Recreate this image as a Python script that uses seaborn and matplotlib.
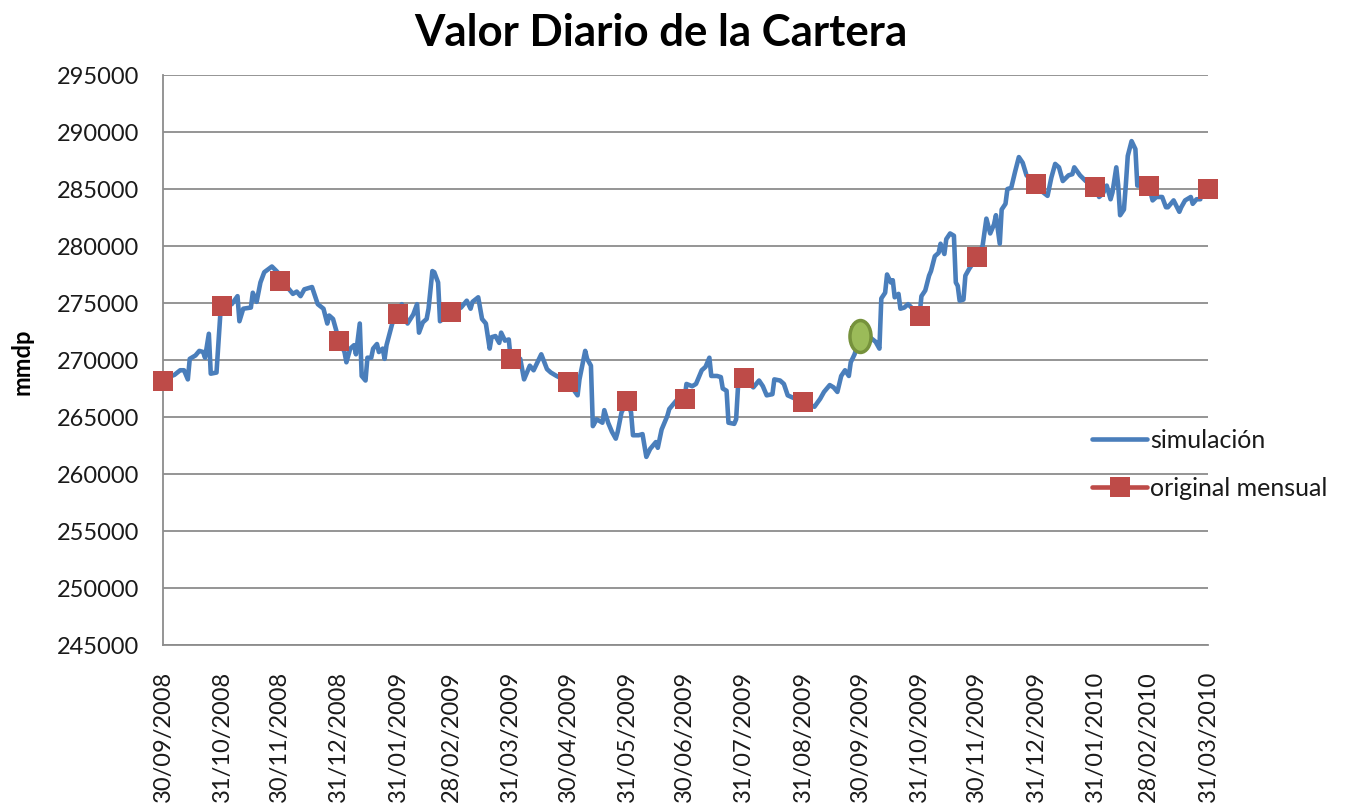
import numpy as np
import pandas as pd
import matplotlib
matplotlib.use("Agg")
import matplotlib.pyplot as plt
from matplotlib.lines import Line2D
from matplotlib.path import Path
import seaborn as sns

# ---------------- data ----------------
start_date = "30/09/2008"

# daily simulation: days since 30/09/2008 and portfolio value
sim_day = [0, 6, 9, 11, 13, 14, 17, 19, 21, 22, 24, 25, 28, 30, 31, 36, 39, 40, 42, 46,
           47, 49, 51, 53, 57, 60, 61, 65, 68, 70, 72, 74, 78, 81, 84, 86, 87, 89, 92, 95,
           96, 98, 100, 101, 103, 104, 106, 107, 109, 110, 112, 113, 115, 116, 117, 120, 123, 125, 128, 131,
           133, 134, 136, 138, 139, 141, 142, 144, 145, 151, 156, 159, 161, 162, 165, 167, 169, 171, 172, 174,
           176, 177, 179, 181, 182, 187, 189, 192, 194, 198, 201, 203, 206, 212, 217, 218, 221, 222, 224, 225,
           227, 230, 231, 233, 235, 237, 238, 240, 243, 245, 246, 249, 251, 253, 255, 258, 259, 261, 264, 265,
           269, 273, 274, 277, 279, 282, 284, 286, 287, 290, 292, 293, 295, 296, 299, 300, 301, 304, 309, 312,
           314, 316, 319, 320, 323, 325, 327, 335, 341, 344, 346, 349, 351, 353, 355, 357, 359, 360, 362, 365,
           367, 370, 373, 375, 376, 378, 379, 381, 382, 383, 385, 386, 388, 390, 396, 397, 399, 401, 402, 404,
           406, 407, 409, 410, 412, 414, 415, 416, 417, 419, 420, 422, 426, 429, 431, 433, 435, 436, 438, 439,
           441, 442, 444, 446, 448, 450, 452, 457, 460, 463, 465, 467, 469, 471, 474, 476, 477, 480, 483, 488,
           490, 492, 494, 496, 497, 499, 500, 501, 503, 504, 505, 507, 509, 510, 516, 518, 520, 523, 525, 526,
           529, 532, 533, 535, 538, 539, 541, 543]
sim_value = [268300, 268700, 269100, 269100, 268300, 270100, 270400, 270800, 270700, 270200,
             272300, 268800, 268900, 274000, 274800, 274900, 275600, 273400, 274500, 274600,
             275900, 275100, 276800, 277700, 278200, 277700, 277000, 276400, 275800, 276000,
             275600, 276200, 276400, 274900, 274500, 273200, 273900, 273600, 271800, 270700,
             269800, 271000, 271300, 270500, 273200, 268600, 268200, 270200, 270200, 271000,
             271400, 270700, 271000, 270100, 271300, 273200, 274000, 274900, 273200, 274000,
             274900, 272400, 273300, 273600, 274500, 277800, 277700, 276800, 273400, 274200,
             274600, 275200, 274500, 275100, 275500, 273600, 273200, 271000, 272000, 272100,
             271500, 272400, 271700, 271800, 270100, 270100, 268300, 269500, 269100, 270500,
             269200, 268900, 268600, 268100, 266900, 268300, 270800, 270100, 269500, 264200,
             264800, 264500, 265600, 264500, 263700, 263100, 263700, 265400, 266400, 265400,
             263400, 263400, 263500, 261500, 262200, 262800, 262300, 263900, 265100, 265700,
             266500, 266600, 267900, 267700, 267900, 269100, 269400, 270200, 268600, 268600,
             268500, 267500, 267300, 264500, 264400, 264800, 267700, 268400, 267600, 268200,
             267700, 266900, 267000, 268300, 268200, 267900, 266900, 266300, 265900, 266600,
             267200, 267800, 267600, 267200, 268600, 269100, 268600, 269800, 270500, 272100,
             271600, 272000, 271600, 271000, 275400, 275900, 277500, 276800, 277000, 275500,
             275800, 274500, 274600, 274900, 273900, 275600, 276100, 277400, 277800, 279100,
             279400, 280200, 279300, 280600, 281100, 280900, 276800, 276500, 275200, 275300,
             277400, 278000, 279000, 280000, 282400, 281100, 281900, 282700, 280200, 283200,
             283700, 285000, 285100, 286500, 287800, 287300, 286200, 285400, 284800, 284400,
             286000, 287200, 286900, 285700, 286200, 286300, 286900, 286200, 285700, 285200,
             284300, 284600, 285300, 284100, 284700, 286900, 285300, 282700, 283200, 285400,
             287900, 289200, 288500, 285300, 285300, 284000, 284300, 284300, 283400, 283400,
             284000, 283000, 283400, 284000, 284300, 283700, 284100, 284100]

# monthly original values (month-end dates = x tick labels)
month_labels = ["30/09/2008", "31/10/2008", "30/11/2008", "31/12/2008", "31/01/2009",
                "28/02/2009", "31/03/2009", "30/04/2009", "31/05/2009", "30/06/2009",
                "31/07/2009", "31/08/2009", "30/09/2009", "31/10/2009", "30/11/2009",
                "31/12/2009", "31/01/2010", "28/02/2010", "31/03/2010"]
month_value = [268200, 274700, 276900, 271700, 274000, 274200, 270100, 268100, 266400, 266600,
               268400, 266300, 272100, 273900, 279000, 285400, 285200, 285300, 285000]

highlight_label = "30/09/2009"
highlight_value = 272100

y_ticks = [245000, 250000, 255000, 260000, 265000, 270000, 275000, 280000, 285000, 290000, 295000]

# ---------------- build frames ----------------
t0 = pd.to_datetime(start_date, format="%d/%m/%Y")
sim_df = pd.DataFrame({"fecha": t0 + pd.to_timedelta(sim_day, unit="D"),
                       "valor": sim_value, "serie": "simulación"})
mon_dates = pd.to_datetime(month_labels, format="%d/%m/%Y")
mon_df = pd.DataFrame({"fecha": mon_dates, "valor": month_value, "serie": "original mensual"})
hl_df = pd.DataFrame({"fecha": [pd.to_datetime(highlight_label, format="%d/%m/%Y")],
                      "valor": [highlight_value]})

# ---------------- style ----------------
sns.set_theme(style="white")
plt.rcParams["font.family"] = ["Lato", "DejaVu Sans"]

BLUE = "#4A7EBB"
RED = "#BE4B48"
GRID = "#8C8C8C"
TXT = "#1a1a1a"

fig = plt.figure(figsize=(13.45, 8.04), dpi=100)
ax = fig.add_axes([163 / 1345, 1 - 646 / 804, (1208 - 163) / 1345, (646 - 76) / 804])

sns.lineplot(data=sim_df, x="fecha", y="valor", ax=ax, color=BLUE, linewidth=3.3,
             legend=False, zorder=3)
sns.scatterplot(data=mon_df, x="fecha", y="valor", ax=ax, color=RED, marker="s", s=210,
                linewidth=0, legend=False, zorder=4, clip_on=False)

# green ellipse highlight
circ = Path.unit_circle()
ell = Path(circ.vertices * np.array([0.66, 1.0]), circ.codes)
ax.plot(hl_df["fecha"], hl_df["valor"], linestyle="none", marker=ell, markersize=23,
        markerfacecolor="#9BBB59", markeredgecolor="#76923C", markeredgewidth=2.5,
        zorder=5, clip_on=False)

# axes
ax.set_xlim(mon_dates[0], mon_dates[-1])
ax.set_ylim(y_ticks[0], y_ticks[-1])
ax.set_yticks(y_ticks)
ax.set_yticklabels([str(v) for v in y_ticks], fontsize=17, color=TXT)
ax.set_xticks(mon_dates)
ax.set_xticklabels(month_labels, rotation=90, fontsize=17, color=TXT)
ax.tick_params(axis="y", length=0, pad=17)
ax.tick_params(axis="x", length=0, pad=18)
ax.set_xlabel("")
ax.set_ylabel("")
ax.grid(axis="y", color=GRID, linewidth=1.3)
ax.grid(axis="x", visible=False)
for side in ["top", "right"]:
    ax.spines[side].set_visible(False)
for side in ["left", "bottom"]:
    ax.spines[side].set_color(GRID)
    ax.spines[side].set_linewidth(1.3)
ax.set_axisbelow(True)

fig.text(661 / 1345, 1 - 33 / 804, "Valor Diario de la Cartera", ha="center", va="center",
         fontsize=31.5, fontweight="bold", color="black")
fig.text(22 / 1345, 1 - 362 / 804, "mmdp", ha="center", va="center", rotation=90,
         fontsize=17, fontweight="bold", color="black")

handles = [Line2D([0], [0], color=BLUE, linewidth=3.3),
           Line2D([0], [0], color=RED, linewidth=3.3, marker="s", markersize=14,
                  markeredgewidth=0)]
fig.legend(handles, ["simulación", "original mensual"], loc="center left",
           bbox_to_anchor=(1092 / 1345, 1 - 465 / 804), frameon=False, fontsize=18,
           handlelength=2.2, handletextpad=0.12, labelspacing=1.0, borderpad=0,
           borderaxespad=0, labelcolor=TXT)

fig.savefig("out.png", dpi=100)
